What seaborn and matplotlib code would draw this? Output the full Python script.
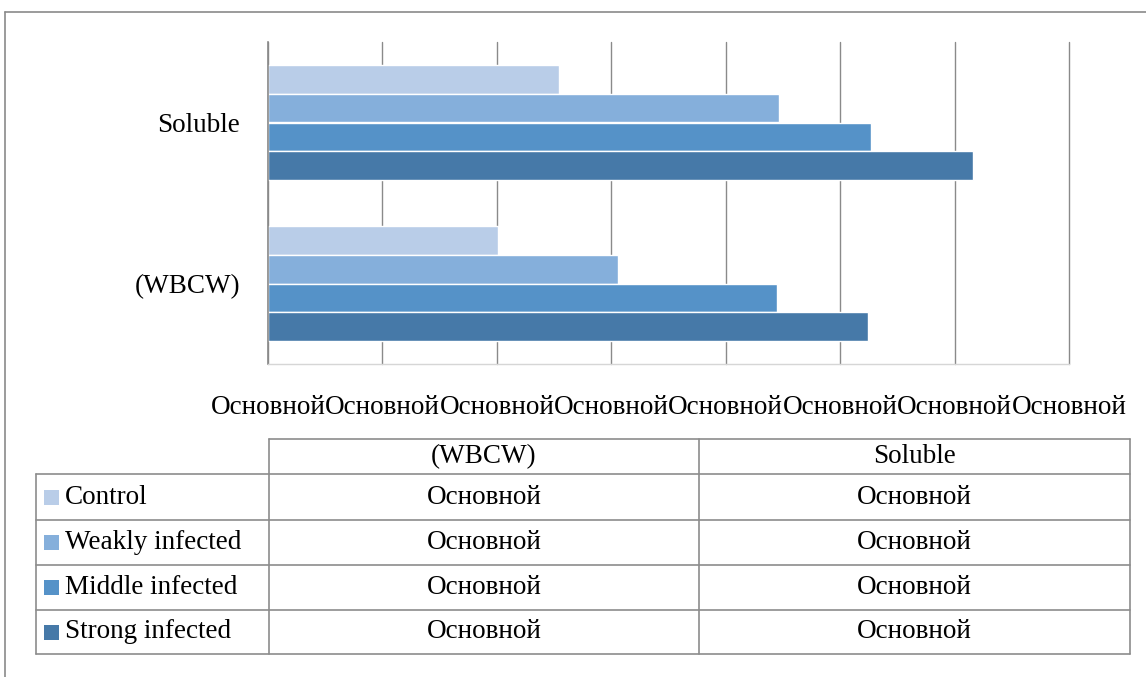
import matplotlib
matplotlib.use("Agg")
import matplotlib.pyplot as plt
import matplotlib.lines as mlines
import matplotlib.patches as mpatches
import seaborn as sns
import pandas as pd

# ---- data ----
categories = ["Soluble", "(WBCW)"]
series_names = ["Control", "Weakly infected", "Middle infected", "Strong infected"]
control = [2.54, 2.01]
weakly = [4.47, 3.06]
middle = [5.27, 4.45]
strong = [6.16, 5.24]
tick_values = [0, 1, 2, 3, 4, 5, 6, 7]
tick_labels = ["Основной"] * 8
table_cols = ["(WBCW)", "Soluble"]
table_cells = [["Основной", "Основной"]] * 4
colors = ["#B9CDE8", "#85AFDB", "#5592C8", "#4679A8"]

rows = []
for name, vals in zip(series_names, [control, weakly, middle, strong]):
    for c, v in zip(categories, vals):
        rows.append({"category": c, "series": name, "value": v})
df = pd.DataFrame(rows)

sns.set_theme(style="white")
plt.rcParams["font.family"] = ["Liberation Serif", "DejaVu Serif"]
plt.rcParams["text.color"] = "black"

W, H = 1146, 677
fig = plt.figure(figsize=(W / 100, H / 100), dpi=100)

def fx(x):
    return x / W

def fy(y):
    return 1 - y / H

ax = fig.add_axes([fx(268), fy(364), fx(1069) - fx(268), fy(42) - fy(364)])
sns.barplot(data=df, y="category", x="value", hue="series", order=categories,
            hue_order=series_names, palette=colors, orient="h", width=0.72,
            edgecolor="white", linewidth=1.0, ax=ax, legend=False, saturation=1)

fs = 19.5
ax.set_xlim(0, 7)
ax.set_xticks(tick_values)
ax.set_xticklabels(tick_labels, fontsize=fs, color="black")
ax.tick_params(axis="x", length=0, pad=22)
ax.tick_params(axis="y", length=0, pad=20, labelsize=fs, labelcolor="black")
ax.set_xlabel("")
ax.set_ylabel("")
ax.set_axisbelow(True)
ax.grid(axis="x", color="#8a8a8a", linewidth=1.0)
ax.grid(axis="y", visible=False)
for gl in ax.get_xgridlines():
    gl.set_clip_on(False)
for s in ["top", "right"]:
    ax.spines[s].set_visible(False)
ax.spines["left"].set_color("#8a8a8a")
ax.spines["left"].set_linewidth(1.2)
ax.spines["bottom"].set_color("#d6d6d6")
ax.spines["bottom"].set_linewidth(1.0)

# ---- outer chart border ----
lc = "#8a8a8a"
fig.add_artist(mlines.Line2D([fx(5), fx(5)], [fy(12), fy(677)], color=lc, lw=1.2))
fig.add_artist(mlines.Line2D([fx(5), fx(1146)], [fy(12), fy(12)], color=lc, lw=1.2))

# ---- data table ----
x0, x1, x2, x3 = 36, 269, 699, 1130
yh, yr = 439, [474, 520, 565, 610, 654]
tc = "#8c8c8c"
def hline(y, xa, xb):
    fig.add_artist(mlines.Line2D([fx(xa), fx(xb)], [fy(y), fy(y)], color=tc, lw=1.2))
def vline(x, ya, yb):
    fig.add_artist(mlines.Line2D([fx(x), fx(x)], [fy(ya), fy(yb)], color=tc, lw=1.2))

hline(yh, x1, x3)
for y in yr:
    hline(y, x0, x3)
vline(x0, yr[0], yr[-1])
vline(x1, yh, yr[-1])
vline(x2, yh, yr[-1])
vline(x3, yh, yr[-1])

cx1, cx2 = (x1 + x2) / 2, (x2 + x3) / 2
fig.text(fx(cx1), fy((yh + yr[0]) / 2), table_cols[0], ha="center", va="center", fontsize=fs, color="black")
fig.text(fx(cx2), fy((yh + yr[0]) / 2), table_cols[1], ha="center", va="center", fontsize=fs, color="black")
for i, name in enumerate(series_names):
    yc = (yr[i] + yr[i + 1]) / 2
    fig.add_artist(mpatches.Rectangle((fx(44), fy(yc + 7.5)), fx(15), 15 / H,
                                      facecolor=colors[i], edgecolor="none"))
    fig.text(fx(65), fy(yc), name, ha="left", va="center", fontsize=fs, color="black")
    fig.text(fx(cx1), fy(yc), table_cells[i][0], ha="center", va="center", fontsize=fs, color="black")
    fig.text(fx(cx2), fy(yc), table_cells[i][1], ha="center", va="center", fontsize=fs, color="black")

fig.savefig("out.png", dpi=100)
